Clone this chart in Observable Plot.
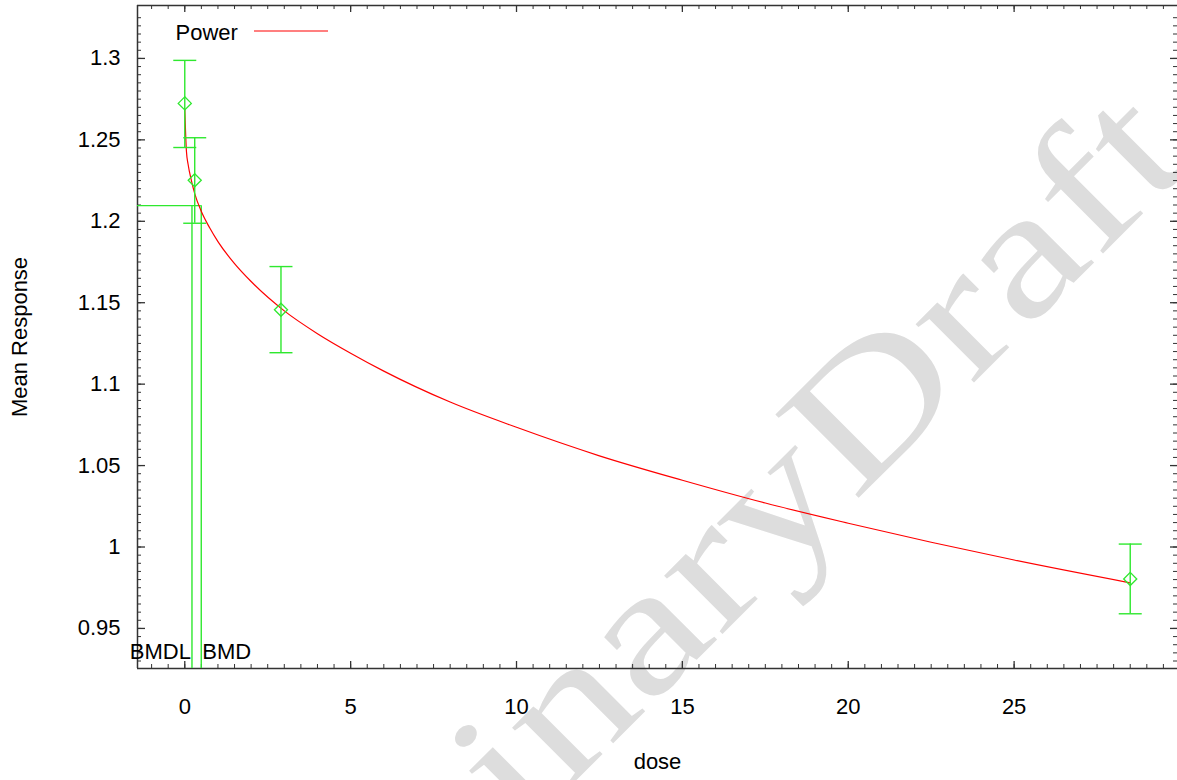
<!DOCTYPE html>
<html><head><meta charset="utf-8">
<script src="https://cdn.jsdelivr.net/npm/d3@7"></script>
<script src="https://cdn.jsdelivr.net/npm/@observablehq/plot@0.6"></script>
<style>body{margin:0;background:#fff;} svg{display:block}</style>
</head><body><div id="chart"></div>
<script>
// observed dose groups
const doses = [0, 0.3, 2.9, 28.5];
const means = [1.2724, 1.2252, 1.1457, 0.9804];
const upper = [1.2988, 1.2513, 1.1722, 1.0018];
const lower = [1.2453, 1.1988, 1.1193, 0.9590];
// fitted Power curve
const curveDose = [0, 0.05, 0.1, 0.2, 0.3, 0.5, 0.75, 1, 1.5, 2, 3, 4, 5, 6, 8, 10, 12.5, 15, 17.5, 20, 22.5, 25, 28.5];
const curveResp = [1.269, 1.243, 1.235, 1.225, 1.217, 1.206, 1.196, 1.1875, 1.174, 1.163, 1.145, 1.131, 1.119, 1.108, 1.089, 1.0735, 1.056, 1.041, 1.027, 1.0146, 1.0029, 0.992, 0.978];
// benchmark dose
const bmdl = 0.217, bmd = 0.497, bmr = 1.2096;
// axes
const xTicks = [0, 5, 10, 15, 20, 25];
const yTicks = [0.95, 1, 1.05, 1.1, 1.15, 1.2, 1.25, 1.3];
const xDomain = [-1.425, 29.925];
const yDomain = [0.9254, 1.3325];

const W = 1177, H = 780, mL = 137, mR = 0, mT = 5, mB = 112;
const iw = W - mL - mR, ih = H - mT - mB;
const xMinor = d3.range(-1, 30, 0.5).filter(v => v > xDomain[0] && v < xDomain[1]);
const yMinor = d3.range(0, 80).map(i => +(0.93 + i * 0.005).toFixed(3)).filter(v => v > yDomain[0] && v < yDomain[1]);

const green = "#2ee82e", axisCol = "#333";
const idx = doses.map((_, i) => i);
const cap = {draw(ctx) { ctx.moveTo(-11.5, 0); ctx.lineTo(11.5, 0); }};
const fmt = d => String(Math.round(d * 100) / 100);

const chart = Plot.plot({
  width: W, height: H,
  marginLeft: mL, marginRight: mR, marginTop: mT, marginBottom: mB,
  style: {fontSize: "22px", fontFamily: "'Liberation Sans', Arial, Helvetica, sans-serif", color: "#000", background: "transparent"},
  x: {domain: xDomain},
  y: {domain: yDomain},
  marks: [
    // ticks (inward)
    Plot.tickX(xMinor, {x: d => d, insetTop: ih - 4, stroke: axisCol}),
    Plot.tickX(xMinor, {x: d => d, insetBottom: ih - 4, stroke: axisCol}),
    Plot.tickX(xTicks, {x: d => d, insetTop: ih - 7, stroke: axisCol, strokeWidth: 1.3}),
    Plot.tickX(xTicks, {x: d => d, insetBottom: ih - 7, stroke: axisCol, strokeWidth: 1.3}),
    Plot.tickY(yMinor, {y: d => d, insetRight: iw - 4, stroke: axisCol}),
    Plot.tickY(yMinor, {y: d => d, insetLeft: iw - 4, stroke: axisCol}),
    Plot.tickY(yTicks, {y: d => d, insetRight: iw - 8, stroke: axisCol, strokeWidth: 1.3}),
    Plot.tickY(yTicks, {y: d => d, insetLeft: iw - 7, stroke: axisCol, strokeWidth: 1.3}),
    // frame
    Plot.ruleX([xDomain[0]], {stroke: axisCol, strokeWidth: 1.5}),
    Plot.ruleY([yDomain[0], yDomain[1]], {stroke: axisCol, strokeWidth: 1.5}),
    Plot.axisX({ticks: xTicks, tickSize: 0, tickPadding: 30, label: null, tickFormat: fmt}),
    Plot.axisY({ticks: yTicks, tickSize: 0, tickPadding: 17, label: null, tickFormat: fmt}),
    Plot.text(["dose"], {frameAnchor: "bottom", dy: 100, lineAnchor: "bottom"}),
    Plot.text(["Mean Response"], {frameAnchor: "left", dx: -118, rotate: -90, textAnchor: "middle", lineAnchor: "middle"}),
    // BMD lines
    Plot.ruleY([bmr], {x1: xDomain[0], x2: bmd, stroke: green, strokeWidth: 1.4}),
    Plot.ruleX([bmdl, bmd], {y1: yDomain[0], y2: bmr, stroke: green, strokeWidth: 1.4}),
    Plot.text([bmdl], {x: d => d, y: yDomain[0], text: () => "BMDL", textAnchor: "end", lineAnchor: "bottom", dy: -10, dx: -1}),
    Plot.text([bmd], {x: d => d, y: yDomain[0], text: () => "BMD", textAnchor: "start", lineAnchor: "bottom", dy: -10, dx: 1}),
    // fitted curve
    Plot.line(curveDose.map((d, i) => [d, curveResp[i]]), {x: d => d[0], y: d => d[1], stroke: "#ff0000", strokeWidth: 1.2, curve: "monotone-x"}),
    // error bars
    Plot.ruleX(idx, {x: i => doses[i], y1: i => lower[i], y2: i => upper[i], stroke: green, strokeWidth: 1.4}),
    Plot.dot(idx, {x: i => doses[i], y: i => upper[i], symbol: cap, stroke: green, fill: "none", strokeWidth: 1.4}),
    Plot.dot(idx, {x: i => doses[i], y: i => lower[i], symbol: cap, stroke: green, fill: "none", strokeWidth: 1.4}),
    Plot.dot(idx, {x: i => doses[i], y: i => means[i], symbol: "diamond2", r: 5.9, stroke: green, fill: "none", strokeWidth: 1.3}),
    // legend text
    Plot.text(["Power"], {frameAnchor: "top-left", dx: 38, dy: 34, textAnchor: "start", lineAnchor: "bottom"})
  ]
});
document.getElementById("chart").appendChild(chart);

const svg = d3.select(chart);
// legend swatch
svg.append("line").attr("x1", 254).attr("x2", 328).attr("y1", 31).attr("y2", 31)
  .attr("stroke", "#ff0000").attr("stroke-width", 1.2);
// watermark behind everything
const wm = svg.insert("g", ":first-child")
  .attr("transform", "translate(854,502.6) rotate(-45) scale(1.27,1)")
  .attr("fill", "#dddddd")
  .attr("font-family", "'Liberation Serif', 'Times New Roman', serif")
  .attr("font-size", 180);
wm.append("text").attr("text-anchor", "end").text("Preliminary");
wm.append("text").attr("text-anchor", "start").text("Draft");
</script>
</body></html>
